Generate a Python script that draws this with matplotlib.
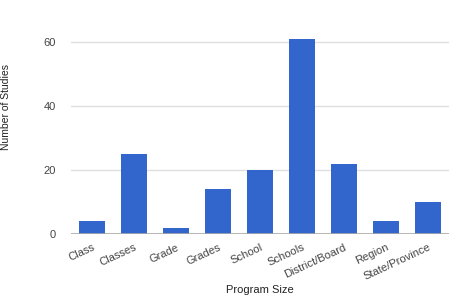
import matplotlib.pyplot as plt

plt.rcParams['font.family'] = ['Liberation Sans', 'DejaVu Sans']

categories = ['Class', 'Classes', 'Grade', 'Grades', 'School', 'Schools',
              'District/Board', 'Region', 'State/Province']
studies = [4, 25, 2, 14, 20, 61, 22, 4, 10]

fig = plt.figure(figsize=(4.53, 2.96), dpi=100)
ax = fig.add_axes([0.157, 0.2095, 0.834, 0.6925])

ax.bar(range(len(categories)), studies, width=0.62, color='#3366cc', zorder=3)
ax.set_xlim(-0.5, len(categories) - 0.5)
ax.set_ylim(0, 64)
ax.set_yticks([0, 20, 40, 60])
ax.yaxis.grid(True, color='#e0e0e0', linewidth=1, zorder=0)
ax.axhline(0, color='#aaaaaa', linewidth=1.2, zorder=4)

for s in ax.spines.values():
    s.set_visible(False)
ax.tick_params(length=0, colors='#444444', labelsize=8)
ax.tick_params(axis='y', pad=11)
ax.tick_params(axis='x', pad=6)
ax.set_xticks(range(len(categories)))
ax.set_xticklabels(categories, rotation=25, ha='right', rotation_mode='anchor')

fig.text(6 / 453, 1 - 107 / 296, 'Number of Studies', rotation=90,
         ha='center', va='center', fontsize=7.5, color='#222222')
fig.text(260 / 453, 1 - 285 / 296, 'Program Size', ha='center', va='top',
         fontsize=8, color='#222222')

fig.savefig('out.png', dpi=100)
